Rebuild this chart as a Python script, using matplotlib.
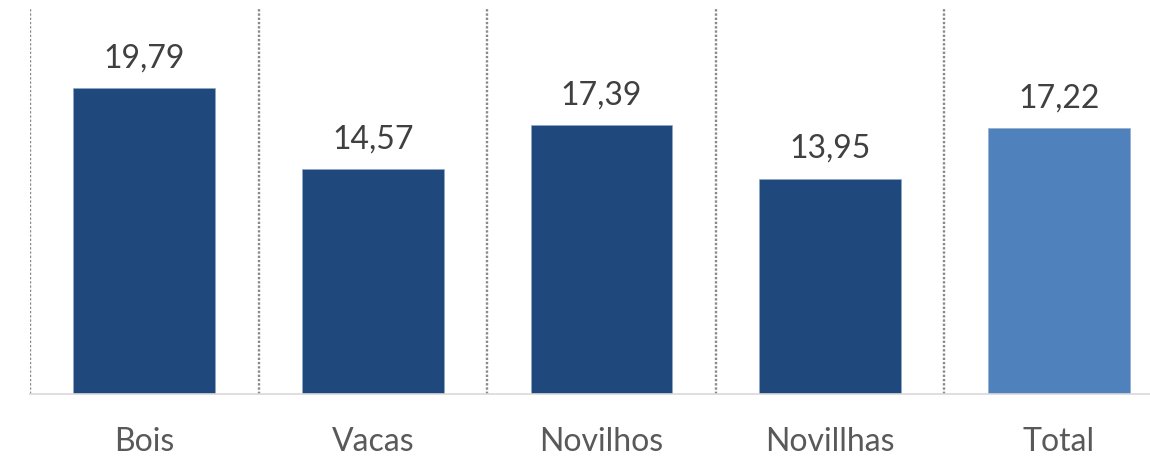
import matplotlib.pyplot as plt
import numpy as np

categories = ["Bois", "Vacas", "Novilhos", "Novillhas", "Total"]
values = [19.79, 14.57, 17.39, 13.95, 17.22]
bar_colors = ["#1F497D", "#1F497D", "#1F497D", "#1F497D", "#4F81BD"]

plt.rcParams["font.family"] = ["Lato", "DejaVu Sans"]

fig = plt.figure(figsize=(11.5, 4.57), dpi=100)
# axes runs a little past the right edge, like the original
ax = fig.add_axes([30 / 1150, 1 - 394 / 457, 1143 / 1150, 386 / 457])

x_pos = np.arange(len(categories))
bars = ax.bar(x_pos, values, width=0.62, color=bar_colors, edgecolor="#8fa8c8", linewidth=0.4)

for b, v in zip(bars, values):
    ax.text(b.get_x() + b.get_width() / 2, v + 0.95, f"{v:.2f}".replace(".", ","),
            ha="center", va="bottom", fontsize=23, color="#404040")

# dotted separators between categories
for sep in x_pos - 0.5:
    ax.axvline(sep, color="#8a8a8a", linestyle=(0, (1, 0.8)), linewidth=1.7, zorder=0)

ax.set_xlim(-0.5, len(categories) - 0.5)
ax.set_ylim(0, 25)
ax.set_xticks(x_pos)
ax.set_xticklabels(categories, fontsize=23, color="#595959")
ax.tick_params(axis="x", length=0, pad=24)
ax.set_yticks([])
for s in ["top", "right", "left"]:
    ax.spines[s].set_visible(False)
ax.spines["bottom"].set_color("#d9d9d9")
ax.spines["bottom"].set_linewidth(1.2)

plt.savefig("out.png", dpi=100)
